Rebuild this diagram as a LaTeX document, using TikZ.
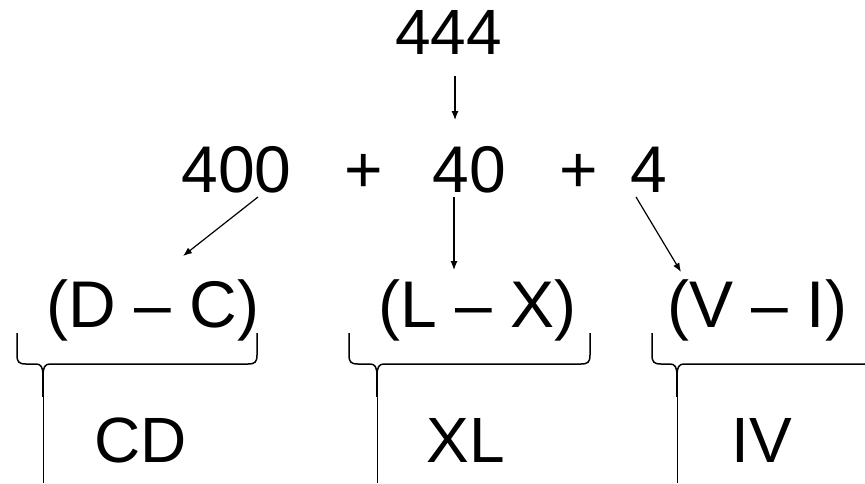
\documentclass[tikz,border=0pt]{standalone}
\usepackage{fontspec}
\setmainfont{Liberation Sans}
\usetikzlibrary{arrows.meta}
\begin{document}
\begin{tikzpicture}[x=1pt,y=-1pt,
  big/.style={font=\fontsize{66}{70}\selectfont, inner sep=0pt, anchor=base},
  mid/.style={font=\fontsize{64}{68}\selectfont, inner sep=0pt, anchor=base},
  arr/.style={line width=1.2pt, -{Latex[length=9pt,width=7pt]}},
  bracepath/.style={line width=1.5pt, line join=round},
  stem/.style={line width=2.6pt},
  tail/.style={line width=0.9pt}]
\useasboundingbox[fill=white] (0,0) rectangle (865,483);
% texts
\node[mid] (n444) at (448.5,54) {444};
\node[big] (n400) at (236.5,192) {400};
\node[big] (p1) at (364,192) {+};
\node[big] (n40) at (469.5,192) {40};
\node[big] (p2) at (578.5,192) {+};
\node[big] (n4) at (649,192) {4};
\node[big] (dc) at (153,327) {(D – C)};
\node[big] (lx) at (477.5,327) {(L – X)};
\node[big] (vi) at (757.5,327) {(V – I)};
\node[mid] (cd) at (141,462) {CD};
\node[mid] (xl) at (466,462) {XL};
\node[mid] (iv) at (762,462) {IV};
% arrow end points
\coordinate (a1s) at (455,76);  \coordinate (a1e) at (455,120);
\coordinate (a2s) at (258,197); \coordinate (a2e) at (183,256);
\coordinate (a3s) at (454,197); \coordinate (a3e) at (454,270);
\coordinate (a4s) at (636,197); \coordinate (a4e) at (681,272);
\draw[arr] (a1s) -- (a1e);
\draw[arr] (a2s) -- (a2e);
\draw[arr] (a3s) -- (a3e);
\draw[arr] (a4s) -- (a4e);
% braces
\foreach \xl/\xc/\xr in {17/43/257, 349/377/590, 652/677/905}{
  \draw[bracepath] (\xl,333) -- (\xl,355) .. controls (\xl,362) and (\xl+2,364) .. (\xl+9,364)
     -- (\xc-7,364) .. controls (\xc-2,364) and (\xc,367) .. (\xc,376);
  \draw[bracepath] (\xr,333) -- (\xr,355) .. controls (\xr,362) and (\xr-2,364) .. (\xr-9,364)
     -- (\xc+7,364) .. controls (\xc+2,364) and (\xc,367) .. (\xc,376);
  \draw[stem] (\xc,374) -- (\xc,397);
  \draw[tail] (\xc,397) -- (\xc,483);
}
\end{tikzpicture}
\end{document}
